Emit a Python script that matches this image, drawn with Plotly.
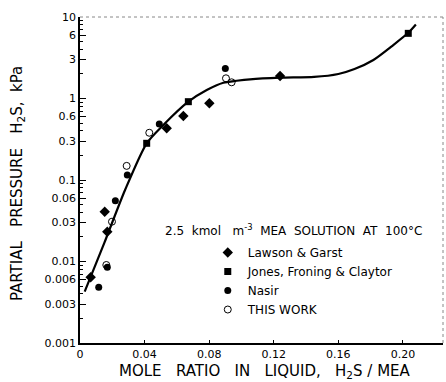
import plotly.graph_objects as go

# ---- data ----
lawson_x = [0.0066, 0.0153, 0.0169, 0.0537, 0.0640, 0.0801, 0.1239]
lawson_p = [0.0064, 0.0408, 0.0232, 0.431, 0.61, 0.873, 1.89]

jones_x = [0.0413, 0.0671, 0.2033]
jones_p = [0.282, 0.914, 6.3]

nasir_x = [0.0116, 0.0169, 0.0219, 0.0293, 0.0491, 0.0900]
nasir_p = [0.00482, 0.0085, 0.0557, 0.115, 0.486, 2.34]

work_x = [0.0163, 0.0198, 0.0289, 0.0429, 0.0904, 0.0939]
work_p = [0.00906, 0.0308, 0.149, 0.38, 1.77, 1.58]

curve_x = [0.0029, 0.0150, 0.0279, 0.0413, 0.0516, 0.0671, 0.0785, 0.0888,
           0.0970, 0.1053, 0.1239, 0.1450, 0.1600, 0.1700, 0.1817, 0.1940, 0.2033, 0.2080]
curve_p = [0.00427, 0.0168, 0.0754, 0.282, 0.473, 0.914, 1.27, 1.56,
           1.65, 1.72, 1.80, 1.84, 2.0, 2.3, 2.97, 4.53, 6.4, 8.1]

y_ticks = [0.001, 0.003, 0.006, 0.01, 0.03, 0.06, 0.1, 0.3, 0.6, 1, 3, 6, 10]
y_ticktext = ["0.001", "0.003", "0.006", "0.01", "0.03", "0.06", "0.1",
              "0.3", "0.6", "1", "3", "6", "10"]
y_minor = [m * 10 ** e for e in (-3, -2, -1, 0) for m in (2, 4, 5, 7, 8, 9)]
x_ticks = [0, 0.04, 0.08, 0.12, 0.16, 0.20]
x_ticktext = ["0", "0.04", "0.08", "0.12", "0.16", "0.20"]

FONT = "DejaVu Sans"

fig = go.Figure()
fig.add_trace(go.Scatter(x=curve_x, y=curve_p, mode="lines",
                         line=dict(color="black", width=2.2, shape="spline", smoothing=0.7),
                         showlegend=False, hoverinfo="skip"))
fig.add_trace(go.Scatter(x=lawson_x, y=lawson_p, mode="markers", name="Lawson & Garst",
                         marker=dict(symbol="diamond", size=8, color="black")))
fig.add_trace(go.Scatter(x=jones_x, y=jones_p, mode="markers", name="Jones, Froning & Claytor",
                         marker=dict(symbol="square", size=7, color="black")))
fig.add_trace(go.Scatter(x=nasir_x, y=nasir_p, mode="markers", name="Nasir",
                         marker=dict(symbol="circle", size=7, color="black")))
fig.add_trace(go.Scatter(x=work_x, y=work_p, mode="markers", name="THIS WORK",
                         marker=dict(symbol="circle-open", size=7, color="black",
                                     line=dict(width=1))))

fig.update_layout(
    width=446, height=382,
    margin=dict(l=80, r=3, t=17, b=39),
    paper_bgcolor="white", plot_bgcolor="white",
    font=dict(family=FONT, color="black", size=11),
    showlegend=True,
    legend=dict(x=0.352, y=0.322, xanchor="left", yanchor="top",
                bgcolor="rgba(0,0,0,0)", borderwidth=0,
                font=dict(family=FONT, size=12, color="black"),
                itemwidth=30),
    xaxis=dict(range=[0, 0.2248], tickvals=x_ticks, ticktext=x_ticktext,
               showgrid=False, zeroline=False, showline=True, linecolor="black",
               linewidth=1.5, ticks="inside", ticklen=3, tickcolor="black",
               tickfont=dict(size=11, family=FONT)),
    yaxis=dict(type="log", range=[-3, 1], tickvals=y_ticks, ticktext=y_ticktext,
               showgrid=False, zeroline=False, showline=True, linecolor="black",
               linewidth=1.5, ticks="inside", ticklen=6, tickcolor="black",
               tickfont=dict(size=11, family=FONT),
               minor=dict(tickvals=y_minor, ticks="inside", ticklen=3,
                          tickcolor="black", showgrid=False)),
    annotations=[
        dict(text="PARTIAL   PRESSURE   H<sub>2</sub>S,  kPa", xref="paper", yref="paper",
             x=-0.174, y=0.49, textangle=-90, showarrow=False,
             font=dict(size=15, family=FONT), xanchor="center", yanchor="middle"),
        dict(text="MOLE   RATIO   IN   LIQUID,   H<sub>2</sub>S / MEA", xref="paper", yref="paper",
             x=0.51, y=-0.088, showarrow=False, xanchor="center", yanchor="middle",
             font=dict(size=15, family=FONT)),
        dict(text="2.5  kmol   m<sup>-3</sup>  MEA  SOLUTION  AT  100°C", xref="paper", yref="paper",
             x=0.229, y=0.347, showarrow=False, xanchor="left", yanchor="middle",
             font=dict(size=12, family=FONT)),
    ],
    shapes=[
        dict(type="line", xref="paper", yref="paper", x0=0, x1=1, y0=1, y1=1,
             line=dict(color="#888888", width=1, dash="dot")),
        dict(type="line", xref="paper", yref="paper", x0=1, x1=1, y0=0, y1=1,
             line=dict(color="#888888", width=1, dash="dot")),
    ],
)

fig.write_html("out.html")
